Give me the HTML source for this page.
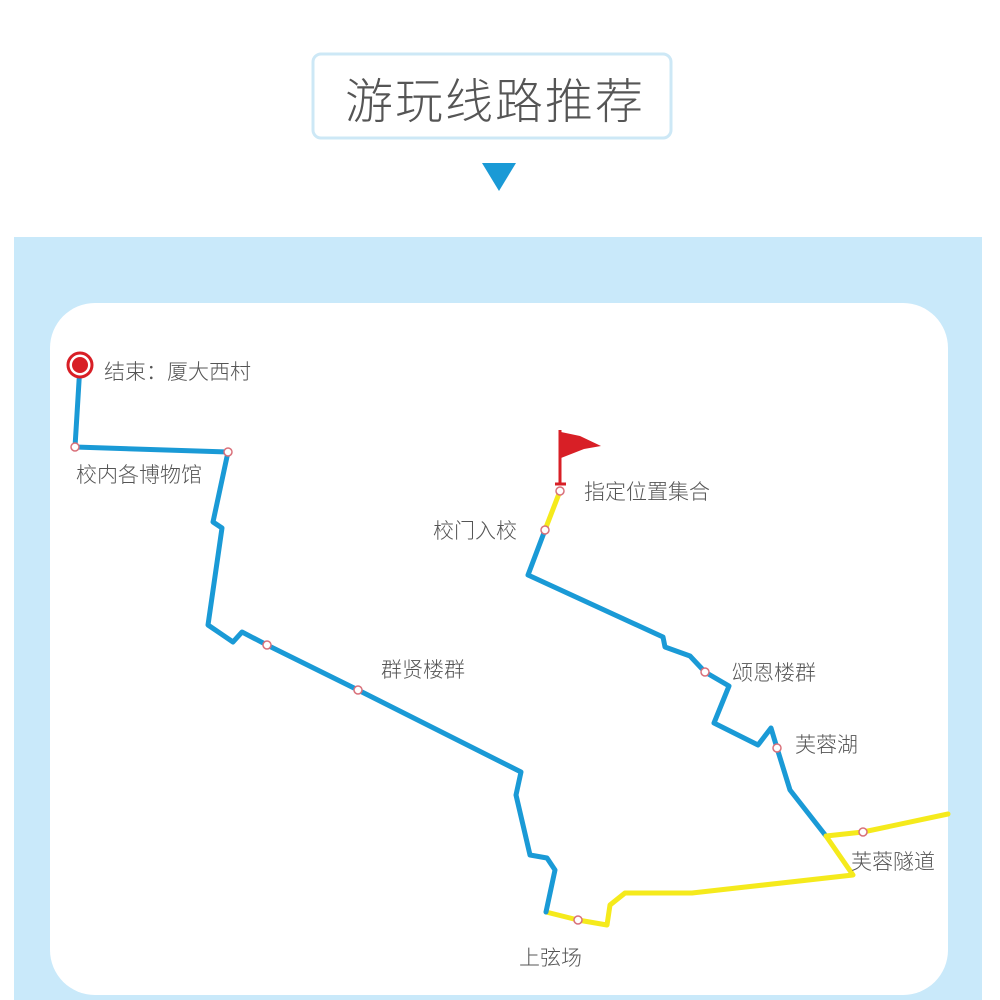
<!DOCTYPE html>
<html><head><meta charset="utf-8"><style>
body{margin:0;width:1000px;height:1000px;background:#fff;overflow:hidden;font-family:"Liberation Sans","Noto Sans CJK SC",sans-serif}
</style></head><body>
<svg width="1000" height="1000" viewBox="0 0 1000 1000" xmlns="http://www.w3.org/2000/svg" style="position:absolute;left:0;top:0">
<rect x="313" y="54" width="358" height="84" rx="8" fill="#fff" stroke="#cde8f6" stroke-width="3"/>
<text x="495" y="118" text-anchor="middle" font-size="48" fill="#555" font-family="Noto Sans CJK SC, sans-serif" font-weight="200" letter-spacing="2">游玩线路推荐</text>
<polygon points="482,163 516,163 499,191" fill="#1a9ad6"/>
<rect x="14" y="237" width="968" height="763" fill="#c9e9fa"/>
<rect x="50" y="303" width="898" height="692" rx="45" fill="#fff"/>
<g fill="none" stroke-width="5" stroke-linejoin="round" stroke-linecap="round">
<polyline stroke="#f5ea1c" points="560,491 545,530"/>
<polyline stroke="#1a9ad6" points="545,530 528,575 663,637 665,647 690,656 705,672 729,686 714,723 758,745 771,728 777,748 790,790 826,836"/>
<polyline stroke="#f5ea1c" points="948,814 863,832 826,836 853,875 692,893 625,893 610,905 607,925 578,920 546,912"/>
<polyline stroke="#1a9ad6" points="546,912 555,870 547,858 530,855 516,795 521,772 358,690 267,645 242,632 233,642 208,625 222,528 213,522 228,452 75,447 80,365"/>
</g>
<g fill="#fff" stroke="#d9707a" stroke-width="1.5">
<circle cx="75" cy="447" r="4"/><circle cx="228" cy="452" r="4"/><circle cx="267" cy="645" r="4"/><circle cx="358" cy="690" r="4"/>
<circle cx="545" cy="530" r="4"/><circle cx="560" cy="491" r="4"/><circle cx="705" cy="672" r="4"/><circle cx="777" cy="748" r="4"/>
<circle cx="863" cy="832" r="4"/><circle cx="578" cy="920" r="4"/>
</g>
<circle cx="80" cy="365" r="12" fill="#fff" stroke="#d81f26" stroke-width="3"/>
<circle cx="80" cy="365" r="8" fill="#d81f26"/>
<line x1="560" y1="430" x2="560" y2="484" stroke="#d81f26" stroke-width="3"/>
<line x1="555" y1="484" x2="566" y2="484" stroke="#d81f26" stroke-width="3"/>
<polygon points="561,432 580,436 601,446 584,449 561,458" fill="#d81f26"/>
<g font-size="21" fill="#555" font-family="Noto Sans CJK SC, sans-serif" font-weight="300">
<text x="104" y="379">结束：厦大西村</text>
<text x="76" y="482">校内各博物馆</text>
<text x="433" y="538">校门入校</text>
<text x="584" y="499">指定位置集合</text>
<text x="381" y="677">群贤楼群</text>
<text x="732" y="680">颂恩楼群</text>
<text x="795" y="752">芙蓉湖</text>
<text x="851" y="869">芙蓉隧道</text>
<text x="519" y="965">上弦场</text>
</g>
</svg>
</body></html>
